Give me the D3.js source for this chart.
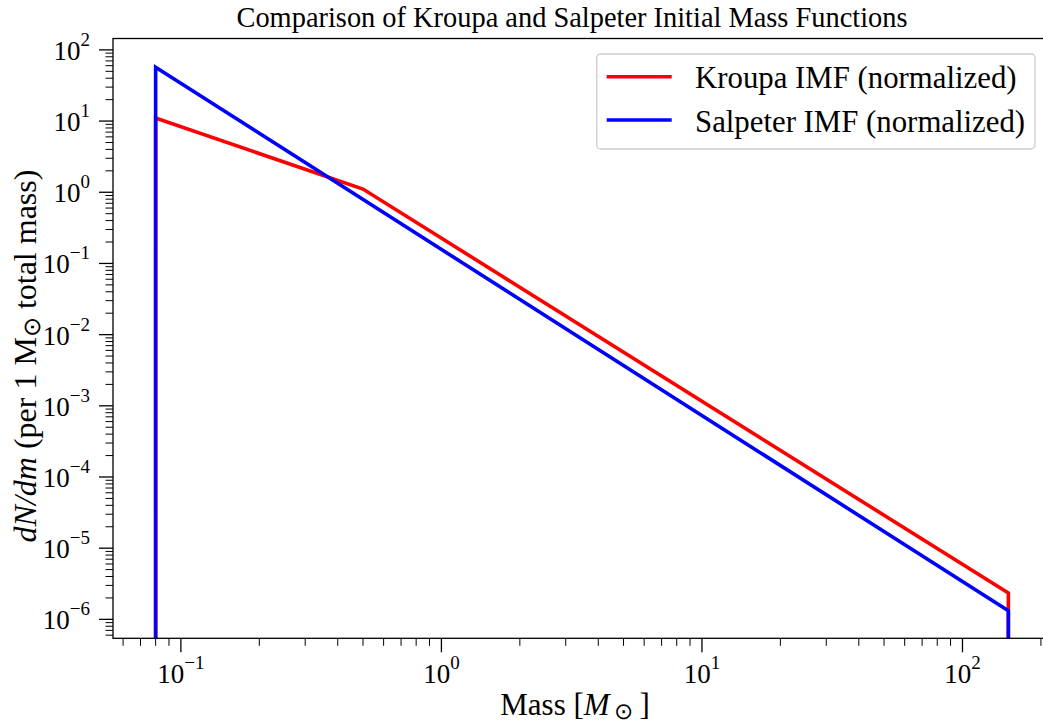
<!DOCTYPE html>
<html>
<head>
<meta charset="utf-8">
<script src="https://cdn.jsdelivr.net/npm/d3@7"></script>
<style>
  body { margin: 0; background: #fff; }
  text { font-family: "Liberation Serif", "Times New Roman", serif; fill: #000; }
</style>
</head>
<body>
<svg id="chart"></svg>
<script>
// masses in solar masses, values in dN/dm per 1 Msun total mass (0 = outside range)
var kroupaMass = [0.08, 0.08, 0.5, 150, 150];
var kroupaVals = [0, 11.0, 1.11, 2.34e-6, 0];
var salpeterMass = [0.08, 0.08, 150, 150];
var salpeterVals = [0, 57, 1.32e-6, 0];

var seriesNames = ["Kroupa IMF (normalized)", "Salpeter IMF (normalized)"];
var seriesColors = ["#ff0000", "#0000ff"];

var xDecades = [-1, 0, 1, 2];
var yDecades = [-6, -5, -4, -3, -2, -1, 0, 1, 2];

var W = 1043, H = 724;
var margin = {left: 113, top: 38.5, right: 1051, bottom: 638.3};

var svg = d3.select("#chart").attr("width", W).attr("height", H);

// matplotlib style 5% log margins around the data
var lx0 = Math.log10(0.08), lx1 = Math.log10(150), pad = (lx1 - lx0) * 0.05;
var x = d3.scaleLog()
    .domain([Math.pow(10, lx0 - pad), Math.pow(10, lx1 + pad)])
    .range([margin.left, margin.right]);
var y = d3.scaleLog()
    .domain([Math.pow(10, -6.266), Math.pow(10, 2.16)])
    .range([margin.bottom, margin.top]);

svg.append("clipPath").attr("id", "clip")
  .append("rect")
    .attr("x", margin.left).attr("y", margin.top)
    .attr("width", margin.right - margin.left).attr("height", margin.bottom - margin.top);

function pts(ms, vs) {
  return ms.map(function(m, i) { return {m: m, v: vs[i]}; });
}

var line = d3.line()
    .x(function(d) { return x(d.m); })
    .y(function(d) { return d.v > 0 ? y(d.v) : margin.bottom + 20; });

var series = [pts(kroupaMass, kroupaVals), pts(salpeterMass, salpeterVals)];

svg.append("g").attr("clip-path", "url(#clip)")
  .selectAll("path")
  .data(series)
  .enter().append("path")
    .attr("d", line)
    .attr("fill", "none")
    .attr("stroke", function(d, i) { return seriesColors[i]; })
    .attr("stroke-width", 3.6)
    .attr("stroke-linejoin", "miter");

// frame
svg.append("rect")
    .attr("x", margin.left).attr("y", margin.top)
    .attr("width", margin.right - margin.left).attr("height", margin.bottom - margin.top)
    .attr("fill", "none").attr("stroke", "#000").attr("stroke-width", 1.3);

function minorTicks(scale) {
  var d = scale.domain(), out = [];
  var a = Math.floor(Math.log10(d[0])), b = Math.ceil(Math.log10(d[1]));
  for (var k = a; k <= b; k++) {
    for (var j = 2; j <= 9; j++) {
      var v = j * Math.pow(10, k);
      if (v >= d[0] && v <= d[1]) out.push(v);
    }
  }
  return out;
}

function supLabel(sel, e) {
  sel.append("tspan").text("10");
  sel.append("tspan")
    .attr("dy", -14).attr("font-size", 19)
    .text(e < 0 ? "\u2212" + (-e) : String(e));
}

// x axis ticks
var gx = svg.append("g");
gx.selectAll("line.minor").data(minorTicks(x)).enter().append("line")
    .attr("x1", function(d) { return x(d); }).attr("x2", function(d) { return x(d); })
    .attr("y1", margin.bottom).attr("y2", margin.bottom + 7.5)
    .attr("stroke", "#000").attr("stroke-width", 1);
gx.selectAll("line.major").data(xDecades).enter().append("line")
    .attr("x1", function(d) { return x(Math.pow(10, d)); }).attr("x2", function(d) { return x(Math.pow(10, d)); })
    .attr("y1", margin.bottom).attr("y2", margin.bottom + 14)
    .attr("stroke", "#000").attr("stroke-width", 1.3);
gx.selectAll("text").data(xDecades).enter().append("text")
    .attr("x", function(d) { return x(Math.pow(10, d)); })
    .attr("y", 683)
    .attr("text-anchor", "middle")
    .attr("font-size", 27)
    .each(function(d) { supLabel(d3.select(this), d); });

// y axis ticks
var gy = svg.append("g");
gy.selectAll("line.minor").data(minorTicks(y)).enter().append("line")
    .attr("y1", function(d) { return y(d); }).attr("y2", function(d) { return y(d); })
    .attr("x1", margin.left).attr("x2", margin.left - 7.5)
    .attr("stroke", "#000").attr("stroke-width", 1);
gy.selectAll("line.major").data(yDecades).enter().append("line")
    .attr("y1", function(d) { return y(Math.pow(10, d)); }).attr("y2", function(d) { return y(Math.pow(10, d)); })
    .attr("x1", margin.left).attr("x2", margin.left - 14)
    .attr("stroke", "#000").attr("stroke-width", 1.3);
gy.selectAll("text").data(yDecades).enter().append("text")
    .attr("x", 90)
    .attr("y", function(d) { return y(Math.pow(10, d)) + 10; })
    .attr("text-anchor", "end")
    .attr("font-size", 27)
    .each(function(d) { supLabel(d3.select(this), d); });

// title
svg.append("text")
    .attr("x", 572).attr("y", 27)
    .attr("text-anchor", "middle")
    .attr("font-size", 28.4)
    .text("Comparison of Kroupa and Salpeter Initial Mass Functions");

// x label
var xl = svg.append("text")
    .attr("x", 575).attr("y", 715)
    .attr("text-anchor", "middle")
    .attr("font-size", 31);
xl.append("tspan").text("Mass [");
xl.append("tspan").attr("font-style", "italic").text("M");
xl.append("tspan").attr("font-size", 23).attr("dy", 4).text("\u2009\u2299");
xl.append("tspan").attr("dy", -4).text("\u2009]");

// y label
var yl = svg.append("text")
    .attr("transform", "translate(36,356) rotate(-90)")
    .attr("text-anchor", "middle")
    .attr("font-size", 32);
yl.append("tspan").attr("font-style", "italic").text("dN/dm");
yl.append("tspan").text(" (per 1 M");
yl.append("tspan").attr("font-size", 24).attr("dy", 4).text("\u2299");
yl.append("tspan").attr("dy", -4).text(" total mass)");

// legend
var lg = svg.append("g");
lg.append("rect")
    .attr("x", 596.7).attr("y", 54).attr("width", 438.3).attr("height", 95)
    .attr("rx", 4).attr("fill", "#fff").attr("fill-opacity", 0.8)
    .attr("stroke", "#cccccc").attr("stroke-width", 1.3);
var items = lg.selectAll("g.item").data(seriesNames).enter().append("g")
    .attr("transform", function(d, i) { return "translate(0," + (76.7 + i * 43.3) + ")"; });
items.append("line")
    .attr("x1", 606.7).attr("x2", 671.7)
    .attr("stroke", function(d, i) { return seriesColors[i]; })
    .attr("stroke-width", 3.6);
items.append("text")
    .attr("x", 695).attr("y", 11.5)
    .attr("font-size", 30.8)
    .text(function(d) { return d; });
</script>
</body>
</html>
